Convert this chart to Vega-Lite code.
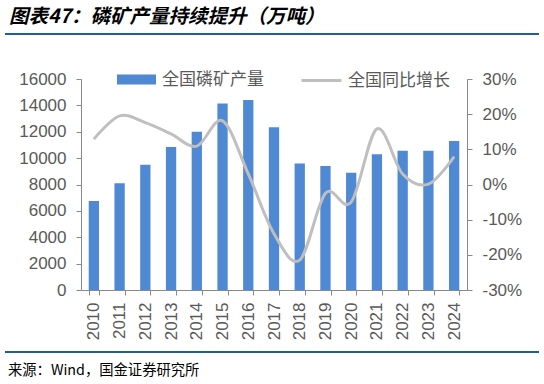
{
  "$schema": "https://vega.github.io/schema/vega-lite/v6.json",
  "autosize": {"type": "none"},
  "padding": {"left": 81, "top": 79, "right": 77, "bottom": 94},
  "width": 386,
  "height": 211,
  "config": {
    "view": {"stroke": null},
    "font": "Liberation Sans",
    "legend": {"padding": 0}
  },
  "datasets": {
    "phos": [
      {"year": "2010", "output": 6750, "yoy": 0.129},
      {"year": "2011", "output": 8100, "yoy": 0.195},
      {"year": "2012", "output": 9500, "yoy": 0.176},
      {"year": "2013", "output": 10850, "yoy": 0.144},
      {"year": "2014", "output": 12000, "yoy": 0.109},
      {"year": "2015", "output": 14150, "yoy": 0.181},
      {"year": "2016", "output": 14400, "yoy": 0.03},
      {"year": "2017", "output": 12350, "yoy": -0.14},
      {"year": "2018", "output": 9600, "yoy": -0.215},
      {"year": "2019", "output": 9400, "yoy": -0.025},
      {"year": "2020", "output": 8900, "yoy": -0.05},
      {"year": "2021", "output": 10300, "yoy": 0.158},
      {"year": "2022", "output": 10550, "yoy": 0.03},
      {"year": "2023", "output": 10550, "yoy": 0.001},
      {"year": "2024", "output": 11300, "yoy": 0.079}
    ],
    "head": [{"t": "图表47：磷矿产量持续提升（万吨）"}],
    "src": [{"t": "来源：Wind，国金证券研究所"}]
  },
  "layer": [
    {
      "data": {"name": "phos"},
      "encoding": {
        "x": {
          "field": "year", "type": "ordinal",
          "scale": {"paddingInner": 0.6, "paddingOuter": 0.3},
          "axis": {"title": null, "labelAngle": -90, "labelFontSize": 17, "labelColor": "#595959", "tickBand": "extent", "tickSize": 5, "labelPadding": 7, "domainColor": "#898989", "tickColor": "#898989"}
        }
      },
      "layer": [
        {
          "mark": {"type": "bar", "color": "#4f88d3"},
          "encoding": {
            "y": {
              "field": "output", "type": "quantitative",
              "scale": {"domain": [0, 16000]},
              "axis": {"orient": "left", "title": null, "grid": false, "values": [0, 2000, 4000, 6000, 8000, 10000, 12000, 14000, 16000], "format": "d", "labelFontSize": 17, "labelColor": "#595959", "tickSize": 5, "labelPadding": 10, "domainColor": "#898989", "tickColor": "#898989"}
            },
            "fill": {
              "datum": "全国磷矿产量", "type": "nominal",
              "scale": {"range": ["#4f88d3"]},
              "legend": {"title": null, "orient": "none", "legendX": 35, "legendY": -20, "symbolType": "M-1,-0.26H1V0.26H-1Z", "symbolSize": 1521, "labelFont": "Noto Sans CJK SC", "labelFontSize": 17, "labelColor": "#595959", "labelOffset": 5}
            }
          }
        },
        {
          "mark": {"type": "line", "interpolate": "cardinal", "strokeWidth": 3, "color": "#bfbfbf"},
          "encoding": {
            "y": {
              "field": "yoy", "type": "quantitative",
              "scale": {"domain": [-0.3, 0.3]},
              "axis": {"orient": "right", "title": null, "grid": false, "values": [-0.3, -0.2, -0.1, 0, 0.1, 0.2, 0.3], "format": ".0%", "labelExpr": "replace(datum.label, '−', '-')", "labelFontSize": 17, "labelColor": "#595959", "tickSize": 5, "labelPadding": 10, "domainColor": "#898989", "tickColor": "#898989"}
            },
            "stroke": {
              "datum": "全国同比增长", "type": "nominal",
              "scale": {"range": ["#bfbfbf"]},
              "legend": {"title": null, "orient": "none", "legendX": 219, "legendY": -20, "symbolType": "stroke", "symbolSize": 1600, "symbolStrokeWidth": 3, "labelFont": "Noto Sans CJK SC", "labelFontSize": 17, "labelColor": "#595959", "labelOffset": 5}
            }
          }
        }
      ],
      "resolve": {"scale": {"y": "independent"}}
    },
    {
      "layer": [
        {
          "data": {"name": "head"},
          "mark": {"type": "text", "align": "left", "baseline": "middle", "font": "Noto Sans CJK SC", "fontSize": 19.5, "fontWeight": "bold", "fontStyle": "italic", "dx": 4, "color": "#000000"},
          "encoding": {
            "text": {"field": "t"},
            "x": {"datum": 0, "type": "quantitative", "scale": {"domain": [0, 1], "range": [-76, 458]}, "axis": null},
            "y": {"datum": 0.993, "type": "quantitative", "scale": {"domain": [0, 1], "range": [292, -64]}, "axis": null}
          }
        },
        {
          "data": {"name": "head"},
          "mark": {"type": "rule", "color": "#1f5f96", "strokeWidth": 2},
          "encoding": {
            "x": {"datum": 0, "type": "quantitative"},
            "x2": {"datum": 1},
            "y": {"datum": 0.9466, "type": "quantitative"}
          }
        },
        {
          "data": {"name": "src"},
          "mark": {"type": "rule", "color": "#1f5f96", "strokeWidth": 2},
          "encoding": {
            "x": {"datum": 0, "type": "quantitative"},
            "x2": {"datum": 1},
            "y": {"datum": 0.0534, "type": "quantitative"}
          }
        },
        {
          "data": {"name": "src"},
          "mark": {"type": "text", "align": "left", "baseline": "middle", "font": "Noto Sans CJK SC", "fontSize": 14.3, "dx": 3, "color": "#000000"},
          "encoding": {
            "text": {"field": "t"},
            "x": {"datum": 0, "type": "quantitative"},
            "y": {"datum": 0, "type": "quantitative"}
          }
        }
      ]
    }
  ],
  "resolve": {"scale": {"x": "independent", "y": "independent"}}
}
